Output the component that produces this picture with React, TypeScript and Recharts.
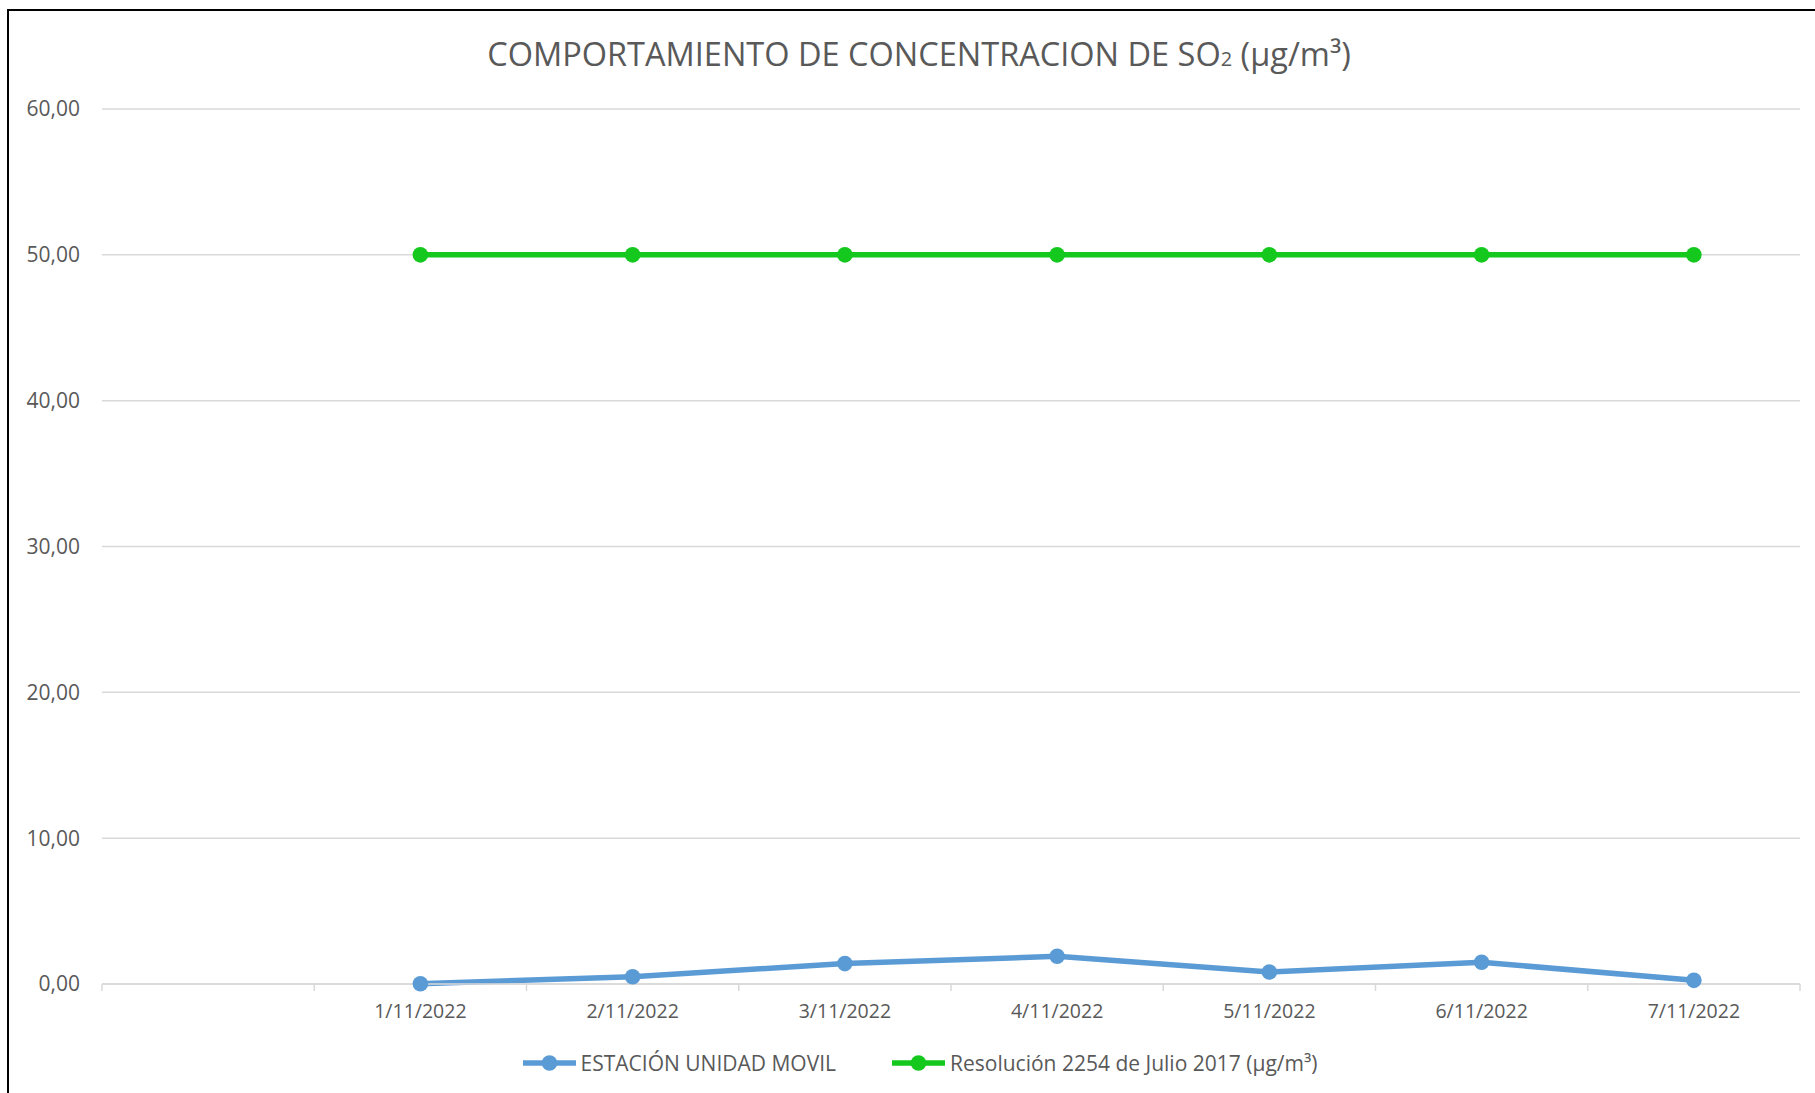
import React from 'react';
import { LineChart, Line, XAxis, YAxis, CartesianGrid } from 'recharts';

const categories = ['', '1/11/2022', '2/11/2022', '3/11/2022', '4/11/2022', '5/11/2022', '6/11/2022', '7/11/2022'];
const estacionValues: (number | null)[] = [null, 0.02, 0.5, 1.4, 1.9, 0.82, 1.49, 0.25];
const resolucionValues: (number | null)[] = [null, 50, 50, 50, 50, 50, 50, 50];
const yTicks = [0, 10, 20, 30, 40, 50, 60];
const seriesKeys = ['estacion', 'resolucion'];
const seriesNames = ['ESTACIÓN UNIDAD MOVIL', 'Resolución 2254 de Julio 2017 (µg/m³)'];
const seriesColors = ['#5B9BD5', '#14C81E'];
const titleMain = 'COMPORTAMIENTO DE CONCENTRACION DE SO';
const titleSub = '2';
const titleTail = ' (µg/m³)';

const data = categories.map((c, i) => ({
  pos: i,
  label: c,
  estacion: estacionValues[i],
  resolucion: resolucionValues[i],
}));

const xTicks: number[] = [];
categories.forEach((_, i) => {
  xTicks.push(i - 0.5);
  xTicks.push(i);
});
xTicks.push(categories.length - 0.5);

const FONT = '"Open Sans", sans-serif';
const TEXT = '#595959';
const GRID = '#D9D9D9';

const XTick = (props: any) => {
  const { x, y, payload } = props;
  const v = payload.value as number;
  if (!Number.isInteger(v)) {
    return <line x1={x} x2={x} y1={y} y2={y + 7} stroke={GRID} strokeWidth={1.5} />;
  }
  return (
    <text x={x} y={y + 34} textAnchor="middle" fontSize={19.5} fill={TEXT} fontFamily={FONT}>
      {categories[v]}
    </text>
  );
};

const fmt = (v: number) => v.toFixed(2).replace('.', ',');

export default function App() {
  return (
    <div style={{ position: 'fixed', left: 0, top: 0, width: 1815, height: 1093, overflow: 'hidden', background: '#fff' }}>
      <div style={{ position: 'absolute', left: 7, top: 9, width: 2000, height: 2000, border: '2px solid #000', boxSizing: 'border-box' }} />
      <div
        style={{
          position: 'absolute',
          left: 0,
          top: 38,
          width: 1838,
          textAlign: 'center',
          fontFamily: FONT,
          fontSize: 32.5,
          lineHeight: '32.5px',
          color: TEXT,
          whiteSpace: 'nowrap',
        }}
      >
        {titleMain}
        <span style={{ fontSize: 20 }}>{titleSub}</span>
        {titleTail}
      </div>
      <div style={{ position: 'absolute', left: 0, top: 0 }}>
        <LineChart
          width={1815}
          height={1093}
          data={data}
          margin={{ top: 109, right: 15, left: 42, bottom: 69 }}
          style={{ fontFamily: FONT }}
        >
          <CartesianGrid vertical={false} stroke={GRID} strokeWidth={1.5} />
          <XAxis
            dataKey="pos"
            type="number"
            domain={[-0.5, categories.length - 0.5]}
            ticks={xTicks}
            interval={0}
            height={40}
            tickLine={false}
            tickSize={0}
            tickMargin={0}
            axisLine={{ stroke: GRID, strokeWidth: 1.5 }}
            tick={(p: any) => <XTick {...p} />}
          />
          <YAxis
            type="number"
            domain={[0, 60]}
            ticks={yTicks}
            interval={0}
            width={60}
            axisLine={false}
            tickLine={false}
            tickSize={0}
            tickMargin={22}
            tickFormatter={fmt}
            tick={{ fill: TEXT, fontSize: 21, fontFamily: FONT }}
          />
          {seriesKeys.map((k, i) => (
            <Line
              key={k}
              dataKey={k}
              name={seriesNames[i]}
              type="linear"
              stroke={seriesColors[i]}
              strokeWidth={5.5}
              dot={{ r: 7.8, fill: seriesColors[i], stroke: seriesColors[i], strokeWidth: 0 }}
              activeDot={false}
              isAnimationActive={false}
            />
          ))}
        </LineChart>
      </div>
      <div
        style={{
          position: 'absolute',
          left: 0,
          top: 1049,
          width: 1840,
          height: 28,
          display: 'flex',
          justifyContent: 'center',
          alignItems: 'center',
          fontFamily: FONT,
          fontSize: 21,
          color: TEXT,
          whiteSpace: 'nowrap',
        }}
      >
        {seriesNames.map((n, i) => (
          <div key={n} style={{ display: 'flex', alignItems: 'center', marginLeft: i === 0 ? 0 : 56 }}>
            <svg width={53} height={20} style={{ marginRight: 5 }}>
              <line x1={0} x2={53} y1={10} y2={10} stroke={seriesColors[i]} strokeWidth={5.5} />
              <circle cx={26.5} cy={10} r={7.8} fill={seriesColors[i]} />
            </svg>
            <span style={{ lineHeight: '28px' }}>{n}</span>
          </div>
        ))}
      </div>
    </div>
  );
}
